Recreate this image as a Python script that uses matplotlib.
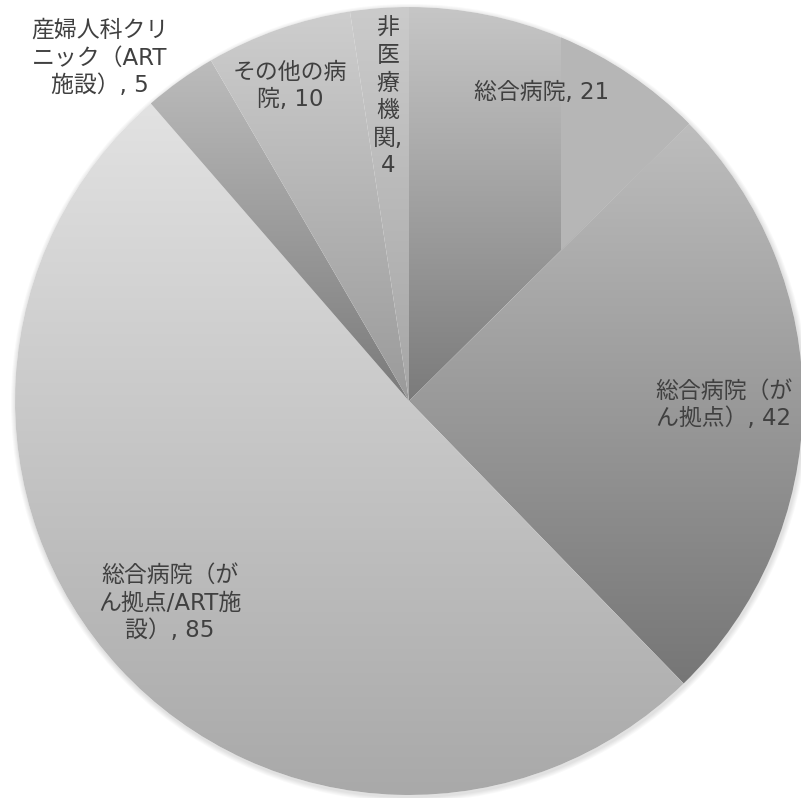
import numpy as np
import matplotlib
matplotlib.use("Agg")
import matplotlib.pyplot as plt
from matplotlib.colors import to_rgb
from matplotlib.patches import Circle

plt.rcParams['font.family'] = ['DejaVu Sans', 'Noto Sans CJK JP']

W, H = 801, 798

labels = ['総合病院', '総合病院（がん拠点）', '総合病院（がん拠点/ART施設）',
          '産婦人科クリニック（ART施設）', 'その他の病院', '非医療機関']
values = [21, 42, 85, 5, 10, 4]
# label text as wrapped on the chart
label_text = ['総合病院, 21',
              '総合病院（が\nん拠点）, 42',
              '総合病院（が\nん拠点/ART施\n設）, 85',
              '産婦人科クリ\nニック（ART\n施設）, 5',
              'その他の病\n院, 10',
              '非\n医\n療\n機\n関,\n4']
# (x, y) in pixels from top-left
label_pos = [(542, 93), (724, 405), (170, 603), (100, 58), (290, 86), (388, 97)]
# vertical gradient per slice: (top, bottom)
grad_colors = [('#c6c6c6', '#7b7b7b'),
               ('#bdbdbd', '#767676'),
               ('#e2e2e2', '#a9a9a9'),
               ('#bcbcbc', '#7a7a7a'),
               ('#cecece', '#9a9a9a'),
               ('#cbcbcb', '#a6a6a6')]

cx, cy, r = 409, H - 401, 394

fig = plt.figure(figsize=(W / 100, H / 100), dpi=100)
ax = fig.add_axes([0, 0, 1, 1])

# soft shadow under the pie
for k in range(1, 6):
    ax.add_patch(Circle((cx + 1, cy - 2), r + k, color='black', alpha=0.025,
                        lw=0, zorder=0))
ax.add_patch(Circle((cx, cy), r, color='white', lw=0, zorder=0.5))

wedges, _ = ax.pie(values, startangle=90, counterclock=False,
                   center=(cx, cy), radius=r, frame=True,
                   wedgeprops=dict(linewidth=0))


def gradient(top, bottom, n=256):
    t = np.linspace(0, 1, n)[:, None]
    a, b = np.array(to_rgb(bottom)), np.array(to_rgb(top))
    return (a + (b - a) * t)[:, None, :]


for w, (top, bottom) in zip(wedges, grad_colors):
    w.set_facecolor('none')
    ext = w.get_path().get_extents()
    im = ax.imshow(gradient(top, bottom), origin='lower', aspect='auto',
                   extent=(ext.x0, ext.x1, ext.y0, ext.y1), zorder=1,
                   interpolation='bilinear')
    im.set_clip_path(w)

# flat band on the right part of the first slice
ext = wedges[0].get_path().get_extents()
flat = ax.imshow(np.array([[to_rgb('#b6b6b6')]]), origin='lower', aspect='auto',
                 extent=(561, ext.x1, ext.y0, ext.y1), zorder=1.1)
flat.set_clip_path(wedges[0])

for txt, (x, y) in zip(label_text, label_pos):
    ax.text(x, H - y, txt, ha='center', va='center', ma='center',
            fontsize=16.5, color='#404040', linespacing=1.25, zorder=3)

ax.set_xlim(0, W)
ax.set_ylim(0, H)
ax.set_aspect('auto')
ax.axis('off')

fig.savefig('out.png', dpi=100, facecolor='white')
